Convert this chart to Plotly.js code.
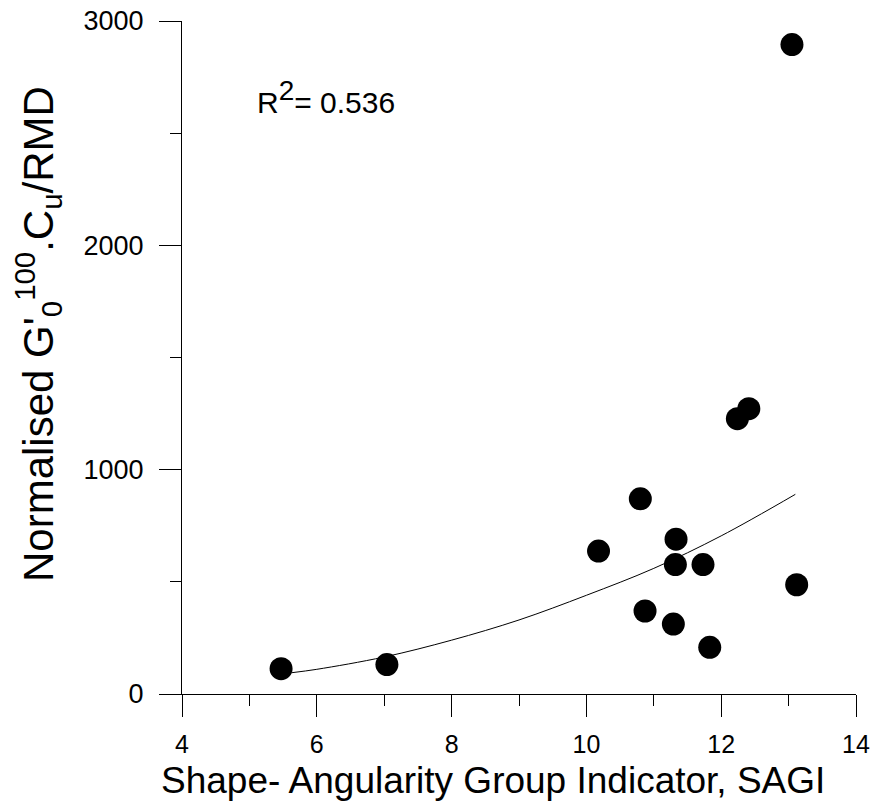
<!DOCTYPE html>
<html>
<head>
<meta charset="utf-8">
<script src="https://cdn.plot.ly/plotly-3.0.1.min.js"></script>
<style>html,body{margin:0;padding:0;background:#fff;}#chart{width:878px;height:806px;}</style>
</head>
<body>
<div id="chart"></div>
<script>
// Measured data points (SAGI vs normalised G'0^100.Cu/RMD)
const sagi = [5.47, 7.04, 10.18, 10.80, 10.87, 11.33, 11.32, 11.29, 11.73, 11.83, 13.12, 12.24, 12.41, 13.05];
const normG = [113, 131, 637, 870, 370, 690, 577, 312, 577, 208, 487, 1227, 1272, 2895];

// Fitted trend curve
const fitX = [5.63, 6, 7, 8, 9, 10, 11, 12, 13.1];
const fitY = [95, 110, 165, 240, 330, 440, 560, 705, 890];

const xTickVals = [4, 6, 8, 10, 12, 14];
const yTickVals = [0, 1000, 2000, 3000];
const r2Text = "R<sup><span style=\"font-size:28px\">2</span></sup>= 0.536";
const xTitle = "Shape- Angularity Group Indicator, SAGI";
const yTitle = "Normalised G'<sub>0</sub><sup>100</sup>.C<sub>u</sub>/RMD";

const FONT = "Liberation Sans, Arial, sans-serif";

const traces = [
  {
    x: fitX, y: fitY, type: "scatter", mode: "lines",
    line: {color: "#000", width: 1, shape: "spline"},
    hoverinfo: "skip", showlegend: false
  },
  {
    x: sagi, y: normG, type: "scatter", mode: "markers",
    marker: {color: "#000", size: 23, line: {width: 0}},
    showlegend: false
  }
];

const layout = {
  width: 878, height: 806,
  margin: {l: 182, r: 22, t: 21, b: 112, pad: 0},
  paper_bgcolor: "#fff", plot_bgcolor: "#fff",
  font: {family: FONT, color: "#000", size: 25},
  showlegend: false,
  xaxis: {
    range: [4, 14], showgrid: false, zeroline: false,
    showline: true, linecolor: "#000", linewidth: 1, mirror: false,
    tickmode: "array", tickvals: xTickVals,
    ticks: "outside", ticklen: 22, tickwidth: 1, tickcolor: "#000",
    minor: {dtick: 1, tick0: 0, ticks: "outside", ticklen: 11, tickwidth: 1, tickcolor: "#000", showgrid: false},
    tickfont: {family: FONT, size: 25, color: "#000"},
    ticklabelstandoff: 6
  },
  yaxis: {
    range: [0, 3000], showgrid: false, zeroline: false,
    showline: true, linecolor: "#000", linewidth: 1, mirror: false,
    tickmode: "array", tickvals: yTickVals,
    ticks: "outside", ticklen: 22, tickwidth: 1, tickcolor: "#000",
    minor: {dtick: 500, tick0: 0, ticks: "outside", ticklen: 11, tickwidth: 1, tickcolor: "#000", showgrid: false},
    tickfont: {family: FONT, size: 27, color: "#000"},
    ticklabelstandoff: 10
  },
  annotations: [
    {
      x: 5.09, y: 2660, xref: "x", yref: "y", xanchor: "left", yanchor: "middle",
      text: r2Text, showarrow: false,
      font: {family: FONT, size: 30, color: "#000"}
    },
    {
      x: 0.4614, y: -0.1278, xref: "paper", yref: "paper", xanchor: "center", yanchor: "middle",
      text: xTitle, showarrow: false,
      font: {family: FONT, size: 37, color: "#000"}
    },
    {
      x: -0.2136, y: 0.535, xref: "paper", yref: "paper", xanchor: "center", yanchor: "middle",
      text: yTitle, showarrow: false, textangle: -90,
      font: {family: FONT, size: 42, color: "#000"}
    }
  ]
};

Plotly.newPlot("chart", traces, layout, {displayModeBar: false, staticPlot: true});
</script>
</body>
</html>
